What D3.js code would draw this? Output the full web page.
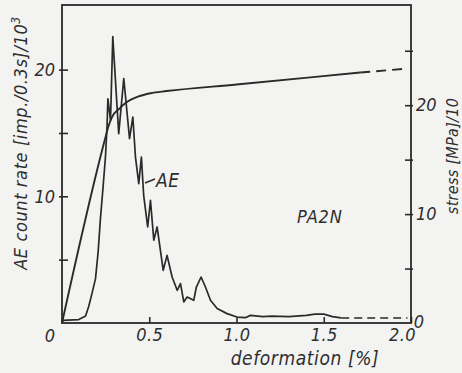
<!DOCTYPE html>
<html>
<head>
<meta charset="utf-8">
<script src="https://cdn.jsdelivr.net/npm/d3@7"></script>
<style>
  body { margin: 0; background: #f3f3f1; }
  svg text { font-family: "DejaVu Sans Condensed", "DejaVu Sans", sans-serif; font-stretch: condensed; font-style: italic; fill: #2e2e2e; }
</style>
</head>
<body>
<div id="chart"></div>
<script>
// AE count rate vs deformation (left axis)
var aeDeformation = [0, 0.005, 0.096, 0.135, 0.153, 0.173, 0.192, 0.207, 0.22, 0.234, 0.249, 0.258, 0.263, 0.278, 0.291, 0.325, 0.354, 0.387, 0.406, 0.421, 0.44, 0.455, 0.468, 0.491, 0.507, 0.526, 0.545, 0.58, 0.602, 0.631, 0.66, 0.679, 0.698, 0.717, 0.755, 0.77, 0.797, 0.822, 0.851, 0.889, 0.946, 1.003, 1.05, 1.08, 1.15, 1.2, 1.3, 1.4, 1.45, 1.5, 1.55, 1.6];
var aeRate = [0, 0.2, 0.27, 0.55, 1.3, 2.4, 3.5, 5.6, 8.2, 10.5, 13.1, 15.5, 17.7, 16.0, 22.6, 14.95, 19.3, 14.55, 16.26, 13.1, 11.0, 13.1, 10.08, 7.58, 9.69, 6.53, 7.58, 4.16, 5.34, 3.63, 2.58, 3.11, 1.66, 2.05, 1.79, 2.84, 3.63, 2.84, 1.79, 1.14, 0.74, 0.47, 0.42, 0.6, 0.5, 0.55, 0.5, 0.6, 0.7, 0.7, 0.5, 0.4];
var aeDashDeformation = [1.6, 1.98];
var aeDashRate = [0.4, 0.4];

// stress vs deformation (right axis)
var stressDeformation = [0, 0.245, 0.265, 0.288, 0.33, 0.364, 0.438, 0.507, 0.6, 1.0, 1.423, 1.709];
var stress = [0, 16.8, 18.0, 18.95, 19.7, 20.2, 20.8, 21.1, 21.3, 21.9, 22.55, 23.0];
var stressDashDeformation = [1.709, 1.97];
var stressDash = [23.0, 23.35];

var xTicks = [0.5, 1.0, 1.5, 2.0];
var xTickLabels = ["0.5", "1.0", "1.5", "2.0"];
var leftTicks = [5, 10, 15, 20];
var leftTickLabels = ["", "10", "", "20"];
var rightTicks = [5, 10, 15, 20, 25];
var rightTickLabels = ["", "10", "", "20", ""];

var width = 462, height = 373;
var plotLeft = 62, plotRight = 411, plotTop = 5, plotBottom = 323;
var ink = "#2a2a2a";

var svg = d3.select("#chart").append("svg")
  .attr("width", width)
  .attr("height", height);

var x = d3.scaleLinear().domain([0, 2]).range([plotLeft, plotRight]);
var yL = d3.scaleLinear().domain([0, 25.1]).range([plotBottom, plotTop]);
var yR = d3.scaleLinear().domain([0, 29.2]).range([plotBottom, plotTop]);

// frame
svg.append("rect")
  .attr("x", plotLeft).attr("y", plotTop)
  .attr("width", plotRight - plotLeft).attr("height", plotBottom - plotTop)
  .attr("fill", "none").attr("stroke", ink).attr("stroke-width", 1.8);

// bottom axis
var xAxis = svg.append("g")
  .attr("transform", "translate(0," + plotBottom + ")")
  .call(d3.axisBottom(x).tickValues(xTicks)
    .tickFormat(function(d, i) { return xTickLabels[i]; })
    .tickSizeInner(-6).tickSizeOuter(0).tickPadding(5));
xAxis.select(".domain").remove();
xAxis.selectAll("line").attr("stroke", ink).attr("stroke-width", 1.6);
xAxis.selectAll("text").style("font-size", "18px").style("letter-spacing", "0.5px").attr("fill", ink)
  .attr("dx", function(d) { return d === 2 ? -9 : 0; });

// left axis
var lAxis = svg.append("g")
  .attr("transform", "translate(" + plotLeft + ",0)")
  .call(d3.axisLeft(yL).tickValues(leftTicks)
    .tickFormat(function(d, i) { return leftTickLabels[i]; })
    .tickSizeInner(3).tickSizeOuter(0).tickPadding(4));
lAxis.select(".domain").remove();
lAxis.selectAll("line").attr("x2", 6).attr("x1", -3).attr("stroke", ink).attr("stroke-width", 1.6);
lAxis.selectAll("text").style("font-size", "18px").attr("fill", ink);

// right axis
var rAxis = svg.append("g")
  .attr("transform", "translate(" + plotRight + ",0)")
  .call(d3.axisRight(yR).tickValues(rightTicks)
    .tickFormat(function(d, i) { return rightTickLabels[i]; })
    .tickSizeInner(3).tickSizeOuter(0).tickPadding(2));
rAxis.select(".domain").remove();
rAxis.selectAll("line").attr("x1", -6).attr("x2", 2).attr("stroke", ink).attr("stroke-width", 1.6);
rAxis.selectAll("text").style("font-size", "18px").attr("fill", ink);

// zero labels
svg.append("text").attr("x", 50).attr("y", 342).attr("text-anchor", "middle")
  .style("font-size", "18px").text("0");
svg.append("text").attr("x", 419).attr("y", 328).attr("text-anchor", "middle")
  .style("font-size", "18px").text("0");

// curves
var aeLine = d3.line()
  .x(function(d) { return x(d[0]); })
  .y(function(d) { return yL(d[1]); });
var stressLine = d3.line()
  .x(function(d) { return x(d[0]); })
  .y(function(d) { return yR(d[1]); })
  .curve(d3.curveMonotoneX);

svg.append("path")
  .datum(d3.zip(aeDeformation, aeRate))
  .attr("d", aeLine)
  .attr("fill", "none").attr("stroke", ink).attr("stroke-width", 1.7)
  .attr("stroke-linejoin", "round");
svg.append("path")
  .datum(d3.zip(aeDashDeformation, aeDashRate))
  .attr("d", aeLine)
  .attr("fill", "none").attr("stroke", ink).attr("stroke-width", 1.6)
  .attr("stroke-dasharray", "8,5");

svg.append("path")
  .datum(d3.zip(stressDeformation, stress))
  .attr("d", stressLine)
  .attr("fill", "none").attr("stroke", ink).attr("stroke-width", 1.9);
svg.append("path")
  .datum(d3.zip(stressDashDeformation, stressDash))
  .attr("d", stressLine)
  .attr("fill", "none").attr("stroke", ink).attr("stroke-width", 1.9)
  .attr("stroke-dasharray", "10,6");

// curve labels
svg.append("line")
  .attr("x1", 145).attr("y1", 183).attr("x2", 155).attr("y2", 179)
  .attr("stroke", ink).attr("stroke-width", 1.4);
svg.append("text").attr("x", 156).attr("y", 187)
  .style("font-size", "19px").style("letter-spacing", "0.5px").text("AE");
svg.append("text").attr("x", 297).attr("y", 223)
  .style("font-size", "18px").style("letter-spacing", "0.8px").text("PA2N");

// axis titles
svg.append("text").attr("x", 305).attr("y", 365).attr("text-anchor", "middle")
  .style("font-size", "19px").style("letter-spacing", "0.6px").text("deformation [%]");

var lt = svg.append("text")
  .attr("transform", "translate(27,143) rotate(-90)")
  .attr("text-anchor", "middle")
  .style("font-size", "18px").style("letter-spacing", "0.6px");
lt.append("tspan").text("AE count rate [imp./0.3s]/10");
lt.append("tspan").attr("baseline-shift", "super").style("font-size", "12px").text("3");

svg.append("text")
  .attr("transform", "translate(458,156) rotate(-90)")
  .attr("text-anchor", "middle")
  .style("font-size", "16px").style("letter-spacing", "0.3px").text("stress [MPa]/10");
</script>
</body>
</html>
